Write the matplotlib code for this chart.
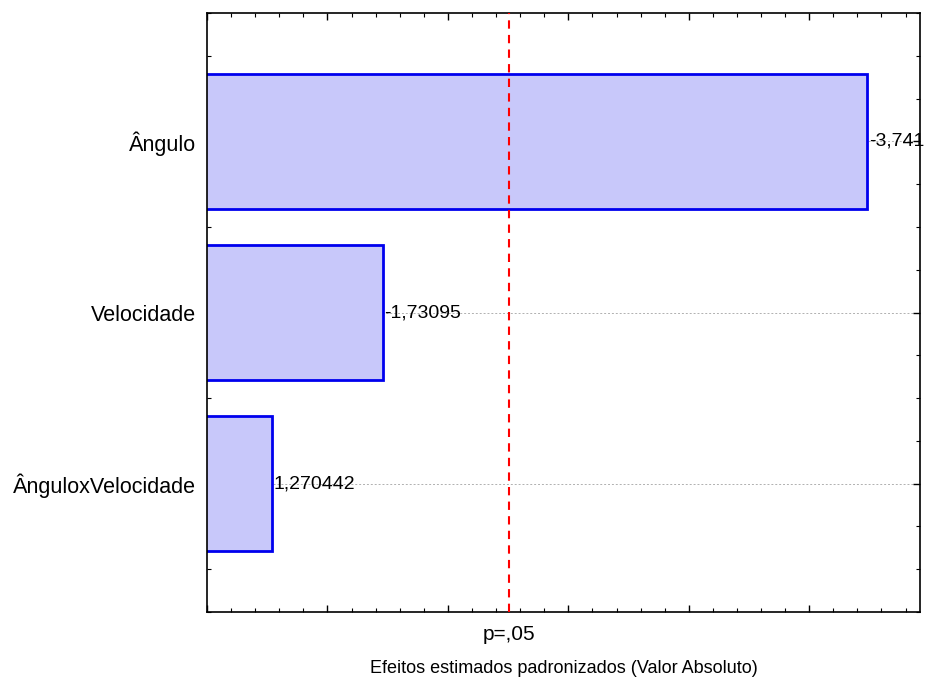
import matplotlib
matplotlib.use("Agg")
from matplotlib import pyplot as plt
from matplotlib.ticker import MultipleLocator, FixedLocator, NullFormatter
import numpy as np

plt.rcParams['font.family'] = ['Liberation Sans', 'DejaVu Sans']

factors = ["Ângulo", "Velocidade", "ÂnguloxVelocidade"]
effects = [-3.741, -1.73095, 1.270442]
value_labels = ["-3,741", "-1,73095", "1,270442"]
p_crit = 2.255
p_label = "p=,05"
xlabel = "Efeitos estimados padronizados (Valor Absoluto)"

fig = plt.figure(figsize=(9.25, 6.81), dpi=100)
ax = fig.add_axes([0.2238, 0.1013, 0.7708, 0.8796])

ypos = np.arange(len(factors))
abs_eff = np.abs(effects)

for y in ypos:
    ax.axhline(y, color="#b0b0b0", linestyle=(0, (2, 2)), linewidth=0.7, zorder=1)

ax.barh(ypos, abs_eff, height=0.79, left=0, facecolor="#c8c8fa",
        edgecolor="#0000ee", linewidth=2, zorder=2)

for y, v, lab in zip(ypos, abs_eff, value_labels):
    ax.text(v + 0.006, y, lab, ha="left", va="center", fontsize=14, zorder=3)

ax.axvline(p_crit, color="red", linestyle=(0, (4, 3)), linewidth=1.5, zorder=4)

ax.set_xlim(1.0, 3.96)
ax.set_ylim(2.75, -0.75)

ax.xaxis.set_major_locator(MultipleLocator(0.5))
ax.xaxis.set_minor_locator(MultipleLocator(0.1))
ax.xaxis.set_major_formatter(NullFormatter())
ax.yaxis.set_major_locator(FixedLocator(ypos))
ax.yaxis.set_minor_locator(MultipleLocator(0.25))
ax.set_yticklabels(factors, fontsize=15.5)

ax.tick_params(which="both", direction="in", top=True, right=True)
ax.tick_params(which="major", length=5, width=1)
ax.tick_params(which="minor", length=3, width=0.8)
ax.tick_params(axis="y", which="major", pad=8)

ax.text(p_crit, -0.022, p_label, transform=ax.get_xaxis_transform(),
        ha="center", va="top", fontsize=15)
ax.set_xlabel(xlabel, fontsize=13, labelpad=31)

for s in ax.spines.values():
    s.set_linewidth(1.2)

plt.savefig("out.png", dpi=100)
